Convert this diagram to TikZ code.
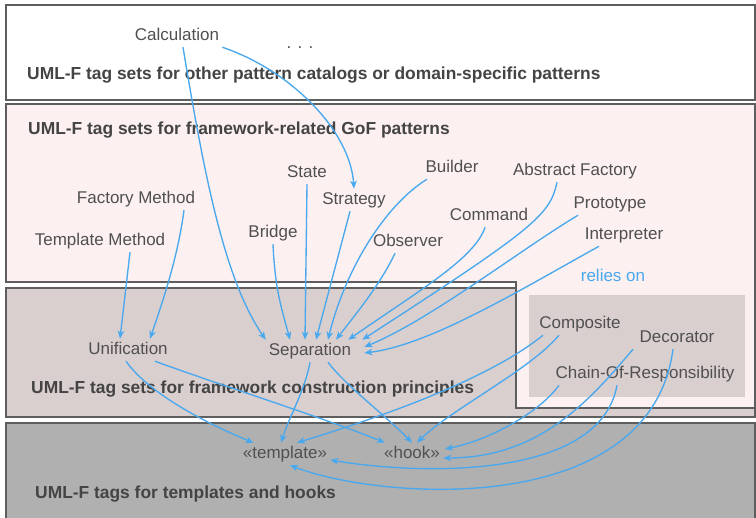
\documentclass[tikz,border=0pt]{standalone}
\usepackage{fontspec}
\setmainfont{Liberation Sans}
\usetikzlibrary{arrows.meta}

\definecolor{pinkbg}{HTML}{FCF1F0}
\definecolor{brownbg}{HTML}{D9CFCE}
\definecolor{greybg}{HTML}{B0B0B0}
\definecolor{framec}{HTML}{5E5E5E}
\definecolor{txt}{HTML}{505050}
\definecolor{relblue}{HTML}{4AA8EE}

\tikzset{
  layer/.style={draw=framec, line width=1.3pt},
  pat/.style={text=txt, font=\fontsize{17}{20}\selectfont, inner sep=3pt,
    text height=12.5pt, text depth=3.6pt},
  title/.style={text=txt!85!black, font=\fontsize{17.4}{20}\selectfont\bfseries,
    anchor=west, inner sep=0pt},
  rel/.style={draw=relblue, line width=1.35pt,
    -{Stealth[length=8pt,width=6.5pt,inset=2.2pt]}}
}

\begin{document}
\begin{tikzpicture}[x=1pt,y=-1pt]
  \useasboundingbox (0,0) rectangle (756,518);
  \clip (0,0) rectangle (756,518);

  % layers
  \draw[layer, fill=white] (6,5) rectangle (755,100);
  \draw[layer, fill=brownbg] (6,288) rectangle (755,417);
  \draw[layer, fill=pinkbg] (6,104) -- (755,104) -- (755,408) -- (516,408)
    -- (516,282) -- (6,282) -- cycle;
  \fill[brownbg] (529,295) rectangle (745,397);
  \draw[layer, fill=greybg] (6,423) rectangle (755,530);

  \node[title] (t1) at (27,75) {UML-F tag sets for other pattern catalogs or domain-specific patterns};
  \node[title] (t2) at (28,130) {UML-F tag sets for framework-related GoF patterns};
  \node[title] (t3) at (31,389) {UML-F tag sets for framework construction principles};
  \node[title] (t4) at (35,494) {UML-F tags for templates and hooks};

  % patterns
  \node[pat] (calc) at (177,36) {Calculation};
  \node[pat] (dots) at (300,44) {. . .};
  \node[pat] (state) at (307,173) {State};
  \node[pat] (builder) at (452,168) {Builder};
  \node[pat] (absfac) at (575,171) {Abstract Factory};
  \node[pat] (strategy) at (354,200) {Strategy};
  \node[pat] (facmeth) at (136,199) {Factory Method};
  \node[pat] (command) at (489,216) {Command};
  \node[pat] (proto) at (610,204) {Prototype};
  \node[pat] (tplmeth) at (100,241) {Template Method};
  \node[pat] (bridge) at (273,233) {Bridge};
  \node[pat] (observer) at (408,242) {Observer};
  \node[pat] (interp) at (624,235) {Interpreter};
  \node[pat, text=relblue] (relies) at (613,277) {relies on};
  \node[pat] (composite) at (580,324) {Composite};
  \node[pat] (decorator) at (677,338) {Decorator};
  \node[pat] (chain) at (645,374) {Chain-Of-Responsibility};

  % principles and tags
  \node[pat] (unif) at (128,350) {Unification};
  \node[pat] (sep) at (310,351) {Separation};
  \node[pat] (tpl) at (285,454) {«template»};
  \node[pat] (hook) at (412,454) {«hook»};

  % relations
  \draw[rel] ([xshift=6pt]calc.south) .. controls (205,180) and (225,280) .. (sep.north west);
  \draw[rel] (calc.south east) .. controls (290,70) and (350,130) .. (strategy.north);
  \draw[rel] (state.south) -- ([xshift=-5pt]sep.north);
  \draw[rel] ([xshift=-4pt]strategy.south) -- ([xshift=6pt]sep.north);
  \draw[rel] (bridge.south) .. controls (275,290) and (282,310) .. ([xshift=-20pt]sep.north);
  \draw[rel] ([xshift=-25pt]builder.south) .. controls (385,205) and (345,270) .. ([xshift=18pt]sep.north);
  \draw[rel] ([xshift=-13pt]observer.south) .. controls (380,285) and (355,315) .. ([xshift=26pt]sep.north);
  \draw[rel] ([xshift=-4pt]command.south) .. controls (475,258) and (420,290) .. ([xshift=-6pt]sep.north east);
  \draw[rel] ([xshift=-18pt]absfac.south) .. controls (550,215) and (535,228) .. ([xshift=8pt]sep.north east);
  \draw[rel] ([xshift=-32pt]proto.south) .. controls (520,250) and (430,320) .. ([xshift=10pt,yshift=4pt]sep.east);
  \draw[rel] ([xshift=-25pt]interp.south) .. controls (520,290) and (430,345) .. ([xshift=10pt,yshift=-2pt]sep.east);
  \draw[rel] ([xshift=30pt]tplmeth.south) -- ([xshift=-8pt]unif.north);
  \draw[rel] ([xshift=48pt]facmeth.south) .. controls (178,255) and (165,295) .. ([xshift=22pt]unif.north);

  \draw[rel] ([xshift=-2pt]unif.south) .. controls (150,395) and (210,425) .. ([xshift=14pt]tpl.north west);
  \draw[rel] ([xshift=27pt]unif.south) .. controls (220,385) and (330,420) .. ([xshift=4pt]hook.north west);
  \draw[rel] (sep.south) .. controls (305,390) and (290,415) .. ([xshift=-4pt]tpl.north);
  \draw[rel] ([xshift=18pt]sep.south) .. controls (345,385) and (385,415) .. (hook.north);
  \draw[rel] ([xshift=-37pt]composite.south) .. controls (500,370) and (420,405) .. ([xshift=12pt]tpl.north);
  \draw[rel] ([xshift=-21pt]composite.south) .. controls (530,370) and (450,410) .. ([xshift=5pt]hook.north);
  \draw[rel] ([xshift=-86pt]chain.south) .. controls (540,412) and (490,440) .. ([xshift=2pt,yshift=5pt]hook.east);
  \draw[rel] ([xshift=-44pt]decorator.south) .. controls (590,400) and (540,458) .. ([yshift=-4pt]hook.east);
  \draw[rel] ([xshift=-28pt]chain.south) .. controls (600,480) and (420,475) .. ([yshift=-6pt]tpl.east);
  \draw[rel] ([xshift=-4pt]decorator.south) .. controls (650,520) and (380,500) .. ([xshift=5pt]tpl.south);
\end{tikzpicture}
\end{document}
